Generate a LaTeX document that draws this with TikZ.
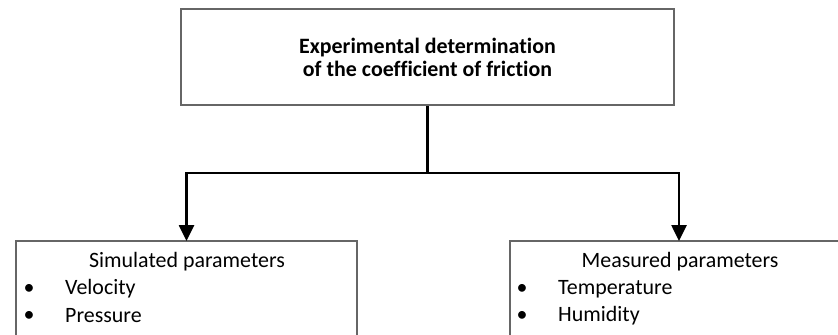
\documentclass[tikz,border=0pt]{standalone}
\usepackage{fontspec}
\setmainfont{Carlito}[Ligatures=CommonOff]
\usetikzlibrary{arrows.meta,positioning}

\begin{document}
\begin{tikzpicture}[x=1bp,y=-1bp,
  every node/.style={font=\fontsize{22}{26}\selectfont},
  box/.style={draw=black!60, line width=2bp},
  link/.style={line width=2.6bp, black},
  arrow/.style={link, -{Triangle[length=16bp,width=15bp]}, shorten >=-1bp},
  itemtext/.style={anchor=west, inner sep=0pt,
    label={[label distance=27bp]left:\textbullet}}]
\useasboundingbox (0,0) rectangle (838,334);
\clip (0,0) rectangle (838,334);
\fill[white] (0,0) rectangle (838,334);
\node[box, minimum width=493bp, minimum height=96bp, align=center,
  font=\fontsize{22}{23}\selectfont\bfseries] (title) at (427.5,57)
  {Experimental determination\\of the coefficient of friction};
\node[box, anchor=north, minimum width=341bp, minimum height=130bp] (sim) at (186.5,240) {};
\node[box, anchor=north west, minimum width=400bp, minimum height=130bp] (meas) at (508.5,240) {};
\coordinate (measin) at (679,240);
\coordinate (split) at (427.5,173);
\draw[link] (title.south) -- (split);
\draw[arrow] (split) -| (sim.north);
\draw[arrow] (split) -| (measin);
\node (simhead) at (187,262) {Simulated parameters};
\node[itemtext] (vel) at (65,289) {Velocity};
\node[itemtext] (pres) at (65,316) {Pressure};
\node (meashead) at (680,262) {Measured parameters};
\node[itemtext] (temp) at (558,289) {Temperature};
\node[itemtext] (hum) at (558,316) {Humidity};
\end{tikzpicture}
\end{document}
